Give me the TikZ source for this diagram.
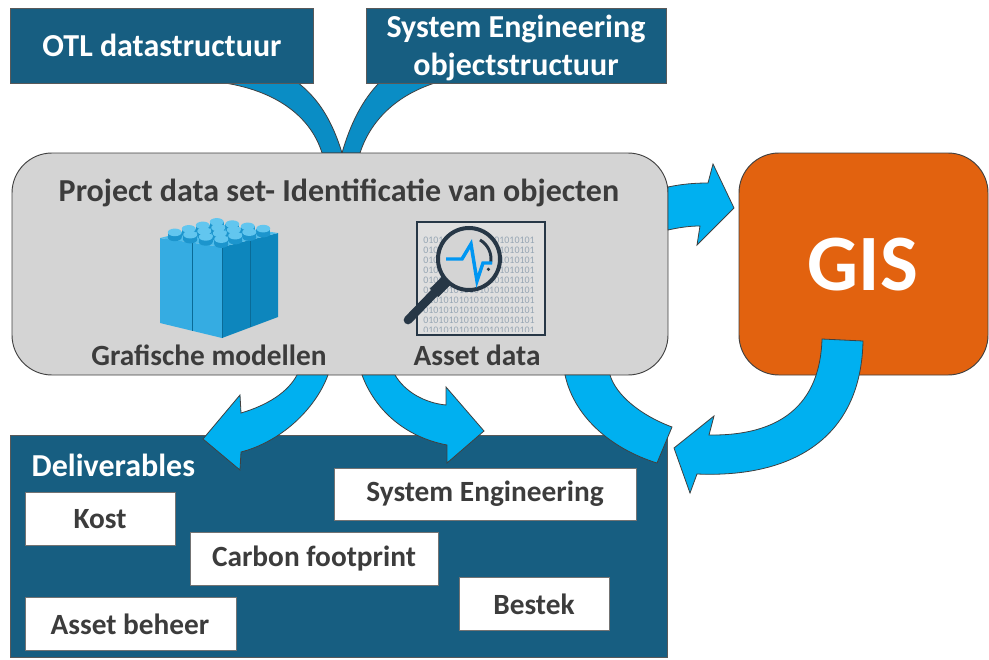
\documentclass[tikz,border=0pt]{standalone}
\usepackage{fontspec}
\setmainfont{Carlito}
\usetikzlibrary{calc}

\definecolor{boxblue}{HTML}{175E81}
\definecolor{wedgeblue}{HTML}{0A8DC5}
\definecolor{arrowblue}{HTML}{00B0F0}
\definecolor{panelgray}{HTML}{D4D4D4}
\definecolor{gisorange}{HTML}{E2620F}
\definecolor{textgray}{HTML}{3C3C3C}
\definecolor{framenavy}{HTML}{273746}
\definecolor{digitgray}{HTML}{97A6B4}
\definecolor{legofront}{HTML}{35ACE2}
\definecolor{legoright}{HTML}{0D86BD}
\definecolor{legotop}{HTML}{52BDEA}
\definecolor{studside}{HTML}{1C95CD}
\definecolor{studtop}{HTML}{62C6EF}

\tikzset{
  darkbox/.style={fill=boxblue, draw=black!65, line width=0.6pt},
  roundbox/.style={draw=black!75, line width=0.7pt, rounded corners=30pt},
  whitebox/.style={fill=white, draw=black!55, line width=0.6pt},
  wedge/.style={fill=wedgeblue, draw=black!75, line width=0.6pt},
  blockarrow/.style={fill=arrowblue, draw=black!75, line width=0.6pt, line join=miter},
  headtxt/.style={font=\bfseries\fontsize{24}{28}\selectfont, text=white, align=center},
  paneltxt/.style={font=\bfseries\fontsize{24}{30}\selectfont, text=textgray},
  boxtxt/.style={font=\bfseries\fontsize{22}{26}\selectfont, text=textgray},
}

\begin{document}
\begin{tikzpicture}[x=0.75pt, y=-0.75pt]
  \useasboundingbox (0,0) rectangle (989,660);

  % feeds into the data set
  \filldraw[wedge] (218,82) .. controls (280,90) and (312,120) .. (322,153)
    -- (342,153) .. controls (332,120) and (318,98) .. (297,82) -- cycle;
  \filldraw[wedge] (438,82) .. controls (395,95) and (370,122) .. (360,153)
    -- (342,153) .. controls (350,125) and (362,100) .. (380,82) -- cycle;

  % source structures
  \draw[darkbox] (10,8) rectangle (313,83);
  \node[headtxt] (otl) at (162,45) {OTL datastructuur};
  \draw[darkbox] (366,8) rectangle (666,83);
  \node[headtxt] (seobj) at (516,48) {System Engineering\\objectstructuur};

  % project data set
  \draw[roundbox, fill=panelgray] (12,153) rectangle (668,375);
  \node[paneltxt] (project) at (339,193) {Project data set- Identificatie van objecten};

  % GIS
  \draw[roundbox, fill=gisorange] (739,153) rectangle (988,375);
  \node[font=\bfseries\fontsize{60}{64}\selectfont, text=white] (gis) at (863,265) {GIS};

  % deliverables
  \draw[darkbox] (10,435) rectangle (667,657);
  \node[headtxt, anchor=west] (deliv) at (27,465) {Deliverables};

  % lego block
  \fill[legofront] (160,238) -- (222,247) -- (222,338) -- (160,323) -- cycle;
  \fill[legoright] (222,247) -- (278,233) -- (278,317) -- (222,338) -- cycle;
  \fill[legotop] (160,238) -- (222,247) -- (278,233) -- (216,224) -- cycle;
  \draw[legoright!80!black, line width=0.5pt] (192,242) -- (192,331) (250,240) -- (250,327);
  \draw[legoright!80!black, line width=0.4pt] (222,247) -- (222,338);
  \foreach \v in {0.875,0.625,0.375,0.125}
    \foreach \u in {0.125,0.375,0.625,0.875} {
      \coordinate (st) at ($(160,238)+\u*(62,9)+\v*(56,-14)$);
      \fill[studside] (st) ellipse [x radius=7, y radius=3.8];
      \fill[studside] ($(st)+(-7,-5)$) rectangle ($(st)+(7,0)$);
      \fill[studtop] ($(st)+(0,-5)$) ellipse [x radius=7, y radius=3.8];
    }
  \node[boxtxt] (grafisch) at (209,355) {Grafische modellen};

  % asset data icon
  \draw[framenavy, fill=gray!25, line width=2.2pt] (417,222) rectangle (545,335);
  \begin{scope}
    \clip (421,226) rectangle (541,331);
    \foreach \yy [count=\i] in {240,250,...,330}
      \node[anchor=west, inner sep=0pt, text=digitgray, font=\fontsize{7.5}{8}\selectfont]
        (bin\i) at (423,\yy) {0101010101010101010101};
  \end{scope}
  \draw[framenavy, line width=6.5pt, line cap=round] (441,286) -- (408,320);
  \draw[framenavy, line width=9pt] (446,281) -- (434,293);
  \draw[framenavy, fill=panelgray, line width=3pt] (469,259) circle [radius=31];
  \draw[framenavy, line width=2.2pt] (469,259) ++(-60:22) arc [start angle=-60, end angle=12, radius=22];
  \fill[framenavy] (469,259) ++(28:22) circle [radius=1.8];
  \draw[arrowblue!85!blue, line width=2.6pt] (446,259) -- (462,259) -- (471,244) -- (477,281) -- (483,263) -- (492,263);
  \node[boxtxt] (asset) at (477,355) {Asset data};

  % flows
  \filldraw[blockarrow] (668,187) .. controls (682,184) and (695,183) .. (708,183)
    -- (713,164) -- (734,208) -- (697,245) -- (700,226)
    .. controls (688,226) and (677,228) .. (668,230) -- cycle;
  \filldraw[blockarrow] (565,375) .. controls (575,420) and (615,450) .. (657,463)
    -- (672,427) .. controls (640,415) and (616,395) .. (610,375) -- cycle;
  \filldraw[blockarrow] (822,339) -- (863,341) .. controls (861,440) and (790,478) .. (697,474)
    -- (690,493) -- (674,448) -- (714,416) -- (709,435)
    .. controls (780,436) and (820,405) .. (822,339) -- cycle;
  \filldraw[blockarrow] (297,375) -- (328,375) .. controls (315,410) and (280,442) .. (241,452)
    -- (240,470) -- (203,439) -- (240,395) -- (241,413)
    .. controls (268,405) and (288,392) .. (297,375) -- cycle;
  \filldraw[blockarrow] (362,375) -- (395,375) .. controls (405,392) and (425,403) .. (446,405)
    -- (446,387) -- (484,431) -- (447,463) -- (447,445)
    .. controls (405,437) and (375,410) .. (362,375) -- cycle;

  % deliverable items
  \draw[whitebox] (25,492) rectangle (175,545);
  \node[boxtxt] (kost) at (100,519) {Kost};
  \draw[whitebox] (190,532) rectangle (438,585);
  \node[boxtxt] (carbon) at (314,559) {Carbon footprint};
  \draw[whitebox] (25,597) rectangle (236,650);
  \node[boxtxt] (beheer) at (130,624) {Asset beheer};
  \draw[whitebox] (334,468) rectangle (636,520);
  \node[boxtxt] (sedeliv) at (485,494) {System Engineering};
  \draw[whitebox] (459,577) rectangle (609,630);
  \node[boxtxt] (bestek) at (534,604) {Bestek};
\end{tikzpicture}
\end{document}
